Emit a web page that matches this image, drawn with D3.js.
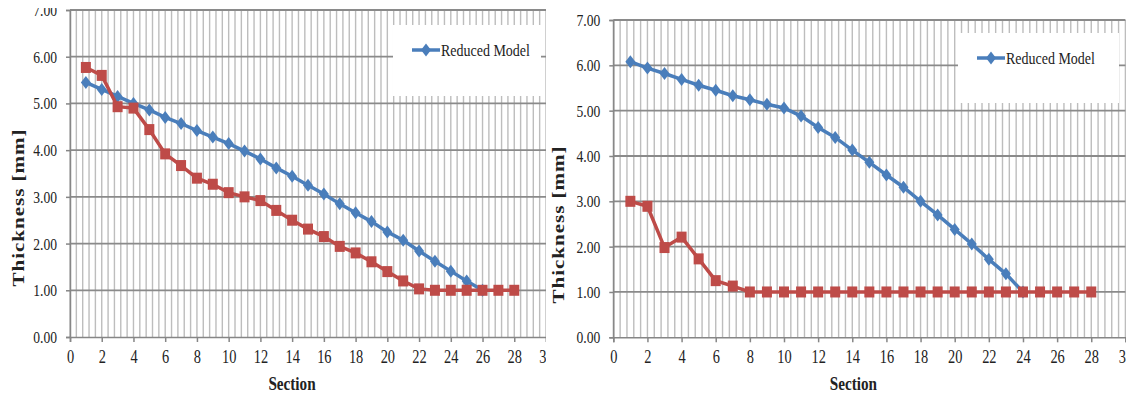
<!DOCTYPE html>
<html>
<head>
<meta charset="utf-8">
<script src="https://cdn.jsdelivr.net/npm/d3@7"></script>
<style>
  body { margin: 0; background: #fff; }
  svg { display: block; }
  text { font-family: "Liberation Serif", "DejaVu Serif", serif; fill: #222; }
</style>
</head>
<body>
<svg id="chart" width="1131" height="394"></svg>
<script>
// Section numbers (x categories)
var sections = [1, 2, 3, 4, 5, 6, 7, 8, 9, 10, 11, 12, 13, 14, 15, 16, 17, 18, 19, 20, 21, 22, 23, 24, 25, 26, 27, 28];

// left chart
var leftReduced = [5.45, 5.30, 5.15, 5.00, 4.86, 4.70, 4.57, 4.42, 4.28, 4.14, 3.98, 3.81, 3.62, 3.44,
                   3.25, 3.06, 2.85, 2.66, 2.47, 2.25, 2.07, 1.84, 1.62, 1.41, 1.20, 1.00];
var leftOther = [5.77, 5.60, 4.93, 4.90, 4.44, 3.92, 3.67, 3.40, 3.27, 3.09, 3.00, 2.92, 2.71, 2.50,
                 2.31, 2.15, 1.94, 1.80, 1.61, 1.40, 1.20, 1.03, 1.00, 1.00, 1.00, 1.00, 1.00, 1.00];

// right chart
var rightReduced = [6.08, 5.94, 5.82, 5.69, 5.56, 5.45, 5.33, 5.24, 5.14, 5.06, 4.88, 4.63, 4.41, 4.13,
                    3.86, 3.58, 3.31, 3.00, 2.70, 2.38, 2.06, 1.72, 1.40, 1.00];
var rightOther = [3.00, 2.89, 1.98, 2.21, 1.73, 1.25, 1.13, 1.00, 1.00, 1.00, 1.00, 1.00, 1.00, 1.00,
                  1.00, 1.00, 1.00, 1.00, 1.00, 1.00, 1.00, 1.00, 1.00, 1.00, 1.00, 1.00, 1.00, 1.00];

// ticks
var xTickValues = [0, 2, 4, 6, 8, 10, 12, 14, 16, 18, 20, 22, 24, 26, 28, 30];
var yTickValues = [0, 1, 2, 3, 4, 5, 6, 7];
var legendLabel = "Reduced Model";
var xTitle = "Section";
var yTitle = "Thickness [mm]";

var blue = "#4a7ebb";
var red = "#be4b48";
var squeeze = 0.8; // the picture is narrow, text looks compressed

var svg = d3.select("#chart");

function drawPanel(id, reduced, other, p) {
    svg.append("clipPath").attr("id", "clip" + id)
        .append("rect")
        .attr("x", p.clipX0).attr("y", p.clipY0)
        .attr("width", p.clipX1 - p.clipX0).attr("height", 394 - p.clipY0);

    var g = svg.append("g").attr("clip-path", "url(#clip" + id + ")");

    var x = d3.scaleLinear().domain([0, 30]).range([p.x0, p.x1]);
    var y = d3.scaleLinear().domain([0, 7]).range([p.yBot, p.yTop]);

    // vertical gridlines (minor unit 0.4)
    var vLines = d3.range(0, 76).map(function (i) { return i * 0.4; });
    g.append("g").selectAll("line").data(vLines).enter().append("line")
        .attr("x1", function (d) { return x(d); })
        .attr("x2", function (d) { return x(d); })
        .attr("y1", y(7)).attr("y2", y(0))
        .attr("stroke", "#bdbdbd").attr("stroke-width", 1.4);

    // horizontal gridlines
    g.append("g").selectAll("line").data(yTickValues.slice(1)).enter().append("line")
        .attr("x1", x(0)).attr("x2", x(30))
        .attr("y1", function (d) { return y(d); })
        .attr("y2", function (d) { return y(d); })
        .attr("stroke", "#8a8a8a").attr("stroke-width", 1.8);

    // legend box covers the grid
    g.append("rect")
        .attr("x", p.legend.x).attr("y", p.legend.y)
        .attr("width", p.legend.w).attr("height", p.legend.h)
        .attr("fill", "#fff");

    // axes
    var yAxis = d3.axisLeft(y).tickValues(yTickValues).tickSize(4).tickFormat(d3.format(".2f"));
    var ya = g.append("g").attr("transform", "translate(" + x(0) + ",0)").call(yAxis);
    ya.select(".domain").attr("stroke", "#868686").attr("stroke-width", 1.5);
    ya.selectAll(".tick line").attr("stroke", "#868686").attr("stroke-width", 1.5);
    ya.selectAll(".tick text")
        .attr("font-size", 17).attr("font-family", "Liberation Serif")
        .attr("fill", "#1e1e1e")
        .attr("x", -13 / squeeze)
        .attr("transform", "scale(" + squeeze + ",1)");

    var xAxis = d3.axisBottom(x).tickValues(xTickValues).tickSize(5).tickFormat(function (d) { return d; });
    var xa = g.append("g").attr("transform", "translate(0," + y(0) + ")").call(xAxis);
    xa.select(".domain").attr("stroke", "#868686").attr("stroke-width", 1.5);
    xa.selectAll(".tick line").attr("stroke", "#868686").attr("stroke-width", 1.5);
    xa.selectAll(".tick text")
        .attr("font-size", 18).attr("font-family", "Liberation Serif")
        .attr("fill", "#1e1e1e")
        .attr("y", 13)
        .attr("transform", "scale(" + squeeze + ",1)");

    // series
    var line = d3.line()
        .x(function (d, i) { return x(sections[i]); })
        .y(function (d) { return y(d); });

    g.append("path").datum(reduced)
        .attr("d", line).attr("fill", "none")
        .attr("stroke", blue).attr("stroke-width", 3.5);
    g.append("g").selectAll("path").data(reduced).enter().append("path")
        .attr("d", "M0,-6.5L5,0L0,6.5L-5,0Z")
        .attr("transform", function (d, i) { return "translate(" + x(sections[i]) + "," + y(d) + ")"; })
        .attr("fill", blue);

    g.append("path").datum(other)
        .attr("d", line).attr("fill", "none")
        .attr("stroke", red).attr("stroke-width", 3.5);
    g.append("g").selectAll("rect").data(other).enter().append("rect")
        .attr("x", function (d, i) { return x(sections[i]) - 5; })
        .attr("y", function (d) { return y(d) - 5.5; })
        .attr("width", 10).attr("height", 11)
        .attr("fill", red);

    // legend
    var lx = p.legend.x + 19, ly = p.legend.y + 25;
    g.append("line")
        .attr("x1", lx).attr("x2", lx + 28).attr("y1", ly).attr("y2", ly)
        .attr("stroke", blue).attr("stroke-width", 3.5);
    g.append("path").attr("d", "M0,-6.5L5,0L0,6.5L-5,0Z")
        .attr("transform", "translate(" + (lx + 14) + "," + ly + ")")
        .attr("fill", blue);
    g.append("text")
        .attr("transform", "translate(" + (lx + 29) + "," + (ly + 6) + ") scale(" + squeeze + ",1)")
        .attr("font-size", 17.5)
        .text(legendLabel);

    // axis titles
    g.append("text")
        .attr("transform", "translate(" + ((p.x0 + p.x1) / 2 - 16) + ",390) scale(" + squeeze + ",1)")
        .attr("text-anchor", "middle")
        .attr("font-size", 19).attr("font-weight", "bold")
        .text(xTitle);

    g.append("text")
        .attr("transform", "translate(" + p.yTitleX + "," + p.yTitleY + ") rotate(-90) scale(1," + squeeze + ")")
        .attr("text-anchor", "middle")
        .attr("dy", "0.35em")
        .attr("font-size", 21).attr("font-weight", "bold")
        .attr("textLength", 157).attr("lengthAdjust", "spacing")
        .text(yTitle);
}

drawPanel("L", leftReduced, leftOther, {
    x0: 70, x1: 546, yTop: 10, yBot: 337,
    clipX0: 0, clipX1: 546, clipY0: 8,
    yTitleX: 18, yTitleY: 208,
    legend: { x: 393, y: 25, w: 148, h: 71 }
});

drawPanel("R", rightReduced, rightOther, {
    x0: 613.3, x1: 1125.4, yTop: 20, yBot: 337.3,
    clipX0: 550, clipX1: 1126, clipY0: 0,
    yTitleX: 558, yTitleY: 225,
    legend: { x: 958, y: 33, w: 161, h: 70 }
});
</script>
</body>
</html>
